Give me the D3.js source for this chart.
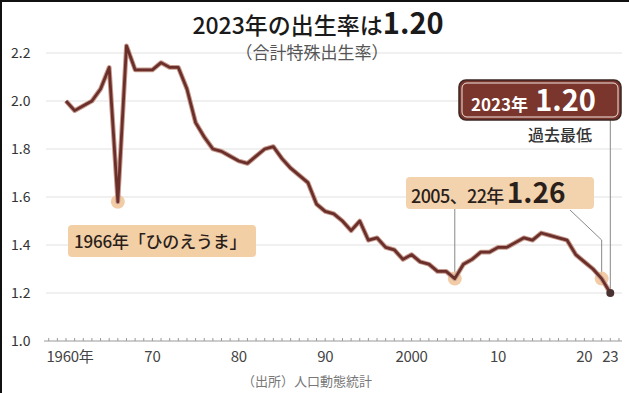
<!DOCTYPE html>
<html>
<head>
<meta charset="utf-8">
<script src="https://cdn.jsdelivr.net/npm/d3@7"></script>
<style>
  body { margin: 0; background: #fff; }
  svg { display: block; font-family: "Noto Sans CJK JP", "Noto Sans", sans-serif; }
</style>
</head>
<body>
<svg width="629" height="393"></svg>
<script>
// total fertility rate
var years = d3.range(1960, 2024);
var rates = [
	2.00, 1.96, 1.98, 2.00, 2.05, 2.14, 1.58, 2.23, 2.13, 2.13,
	2.13, 2.16, 2.14, 2.14, 2.05, 1.91, 1.85, 1.80, 1.79, 1.77,
	1.75, 1.74, 1.77, 1.80, 1.81, 1.76, 1.72, 1.69, 1.66, 1.57,
	1.54, 1.53, 1.50, 1.46, 1.50, 1.42, 1.43, 1.39, 1.38, 1.34,
	1.36, 1.33, 1.32, 1.29, 1.29, 1.26, 1.32, 1.34, 1.37, 1.37,
	1.39, 1.39, 1.41, 1.43, 1.42, 1.45, 1.44, 1.43, 1.42, 1.36,
	1.33, 1.30, 1.26, 1.20
];
var yTicks = [1.0, 1.2, 1.4, 1.6, 1.8, 2.0, 2.2];
var xTickYears = [1960, 1970, 1980, 1990, 2000, 2010, 2020, 2023];
var xTickLabels = ["1960年", "70", "80", "90", "2000", "10", "20", "23"];

var titleText = "2023年の出生率は";
var titleValue = "1.20";
var subtitle = "（合計特殊出生率）";
var source = "（出所）人口動態統計";

var svg = d3.select("svg");
var data = years.map(function(yr, i) { return {year: yr, value: rates[i]}; });
function valueOf(yr) { return rates[years.indexOf(yr)]; }

var x = d3.scaleLinear().domain([1960, 2023]).range([66, 610.3]);
var y = d3.scaleLinear().domain([1.0, 2.2]).range([341, 53]);

// frame (top and left edges only)
svg.append("line").attr("x1", 0).attr("x2", 629).attr("y1", 1).attr("y2", 1)
	.attr("stroke", "#111").attr("stroke-width", 2);
svg.append("line").attr("x1", 1).attr("x2", 1).attr("y1", 0).attr("y2", 393)
	.attr("stroke", "#111").attr("stroke-width", 2);

// gridlines
svg.append("g").selectAll("line")
	.data(yTicks.slice(1))
	.enter().append("line")
	.attr("x1", 46).attr("x2", 622)
	.attr("y1", function(d) { return y(d); })
	.attr("y2", function(d) { return y(d); })
	.attr("stroke", "#e2e2e2").attr("stroke-width", 1.2);

// y labels
svg.append("g").selectAll("text")
	.data(yTicks)
	.enter().append("text")
	.attr("x", 11)
	.attr("y", function(d) { return y(d) + 5; })
	.attr("font-size", 14)
	.attr("fill", "#333")
	.text(function(d) { return d.toFixed(1); });

// baseline with yearly minor ticks
svg.append("line").attr("x1", 44).attr("x2", 622)
	.attr("y1", y(1.0)).attr("y2", y(1.0))
	.attr("stroke", "#999").attr("stroke-width", 1);
svg.append("g").selectAll("line")
	.data(d3.range(1958, 2025))
	.enter().append("line")
	.attr("x1", function(d) { return x(d); })
	.attr("x2", function(d) { return x(d); })
	.attr("y1", y(1.0) - 3).attr("y2", y(1.0))
	.attr("stroke", "#999").attr("stroke-width", 1);

// x labels
svg.append("g").selectAll("text")
	.data(xTickYears)
	.enter().append("text")
	.attr("x", function(d, i) { return x(d) + (i === 0 ? 4 : 0); })
	.attr("y", 362)
	.attr("text-anchor", "middle")
	.attr("font-size", 15)
	.attr("fill", "#444")
	.attr("letter-spacing", -0.3)
	.text(function(d, i) { return xTickLabels[i]; });

// leader lines
var leaders = svg.append("g").attr("stroke", "#888").attr("stroke-width", 1).attr("fill", "none");
leaders.append("line").attr("x1", x(2005)).attr("x2", x(2005))
	.attr("y1", 208).attr("y2", y(valueOf(2005)));
leaders.append("polyline")
	.attr("points", [[570, 210], [x(2022), 240], [x(2022), y(valueOf(2022))]].join(" "));
leaders.append("line").attr("x1", x(2023)).attr("x2", x(2023))
	.attr("y1", 119).attr("y2", y(valueOf(2023)));

// glow circles
svg.append("g").selectAll("circle")
	.data([1966, 2005, 2022])
	.enter().append("circle")
	.attr("cx", function(d) { return x(d); })
	.attr("cy", function(d) { return y(valueOf(d)); })
	.attr("r", 7)
	.attr("fill", "#f1c79c")
	.attr("opacity", 0.9);

// the line
var line = d3.line()
	.x(function(d) { return x(d.year); })
	.y(function(d) { return y(d.value); });

svg.append("path")
	.datum(data)
	.attr("d", line)
	.attr("fill", "none")
	.attr("stroke", "#c79a8c")
	.attr("stroke-width", 4.8)
	.attr("stroke-linejoin", "round");
svg.append("path")
	.datum(data)
	.attr("d", line)
	.attr("fill", "none")
	.attr("stroke", "#6a2f2b")
	.attr("stroke-width", 2.8)
	.attr("stroke-linejoin", "round");

// 2023 dot
svg.append("circle")
	.attr("cx", x(2023)).attr("cy", y(valueOf(2023)))
	.attr("r", 4).attr("fill", "#4b3232");

// title
var title = svg.append("text")
	.attr("x", 318).attr("y", 34)
	.attr("text-anchor", "middle")
	.attr("fill", "#1a1a1a");
title.append("tspan").attr("font-size", 23).attr("font-weight", 500).text(titleText);
title.append("tspan").attr("font-size", 29).attr("font-weight", 700).text(titleValue);

svg.append("text")
	.attr("x", 312).attr("y", 59)
	.attr("text-anchor", "middle")
	.attr("font-size", 17)
	.attr("fill", "#555")
	.text(subtitle);

// 1966 callout
svg.append("rect")
	.attr("x", 68).attr("y", 225).attr("width", 188).attr("height", 32).attr("rx", 4)
	.attr("fill", "#f3cfa6");
svg.append("text")
	.attr("x", 74).attr("y", 248)
	.attr("font-size", 17).attr("font-weight", 500).attr("fill", "#2a1f1a")
	.attr("letter-spacing", -0.2)
	.text("1966年「ひのえうま」");

// 2005/22 callout
svg.append("rect")
	.attr("x", 406).attr("y", 177).attr("width", 188).attr("height", 32).attr("rx", 4)
	.attr("fill", "#f3d2ae");
var t2005 = svg.append("text")
	.attr("x", 411).attr("y", 203)
	.attr("fill", "#2a1f1a");
t2005.append("tspan").attr("font-size", 18).attr("font-weight", 500)
	.attr("letter-spacing", -0.6).text("2005、22年");
t2005.append("tspan").attr("dx", 3).attr("font-size", 28).attr("font-weight", 700).text(rates[years.indexOf(2005)].toFixed(2));

// 2023 callout
svg.append("rect")
	.attr("x", 459).attr("y", 80).attr("width", 162).attr("height", 40).attr("rx", 7)
	.attr("fill", "#7a352d").attr("stroke", "#3b2622").attr("stroke-width", 1.5);
svg.append("rect")
	.attr("x", 462).attr("y", 83).attr("width", 156).attr("height", 34).attr("rx", 5)
	.attr("fill", "none").attr("stroke", "#f4e6e2").attr("stroke-width", 1);
var t2023 = svg.append("text")
	.attr("x", 471).attr("y", 111)
	.attr("fill", "#fff");
t2023.append("tspan").attr("font-size", 17).attr("font-weight", 700).text("2023年");
t2023.append("tspan").attr("dx", 7).attr("font-size", 29).attr("font-weight", 700).text(rates[years.indexOf(2023)].toFixed(2));

svg.append("text")
	.attr("x", 560).attr("y", 141)
	.attr("text-anchor", "middle")
	.attr("font-size", 16).attr("font-weight", 500).attr("fill", "#333")
	.text("過去最低");

// source
svg.append("text")
	.attr("x", 307).attr("y", 386)
	.attr("text-anchor", "middle")
	.attr("font-size", 13)
	.attr("fill", "#777")
	.text(source);
</script>
</body>
</html>
